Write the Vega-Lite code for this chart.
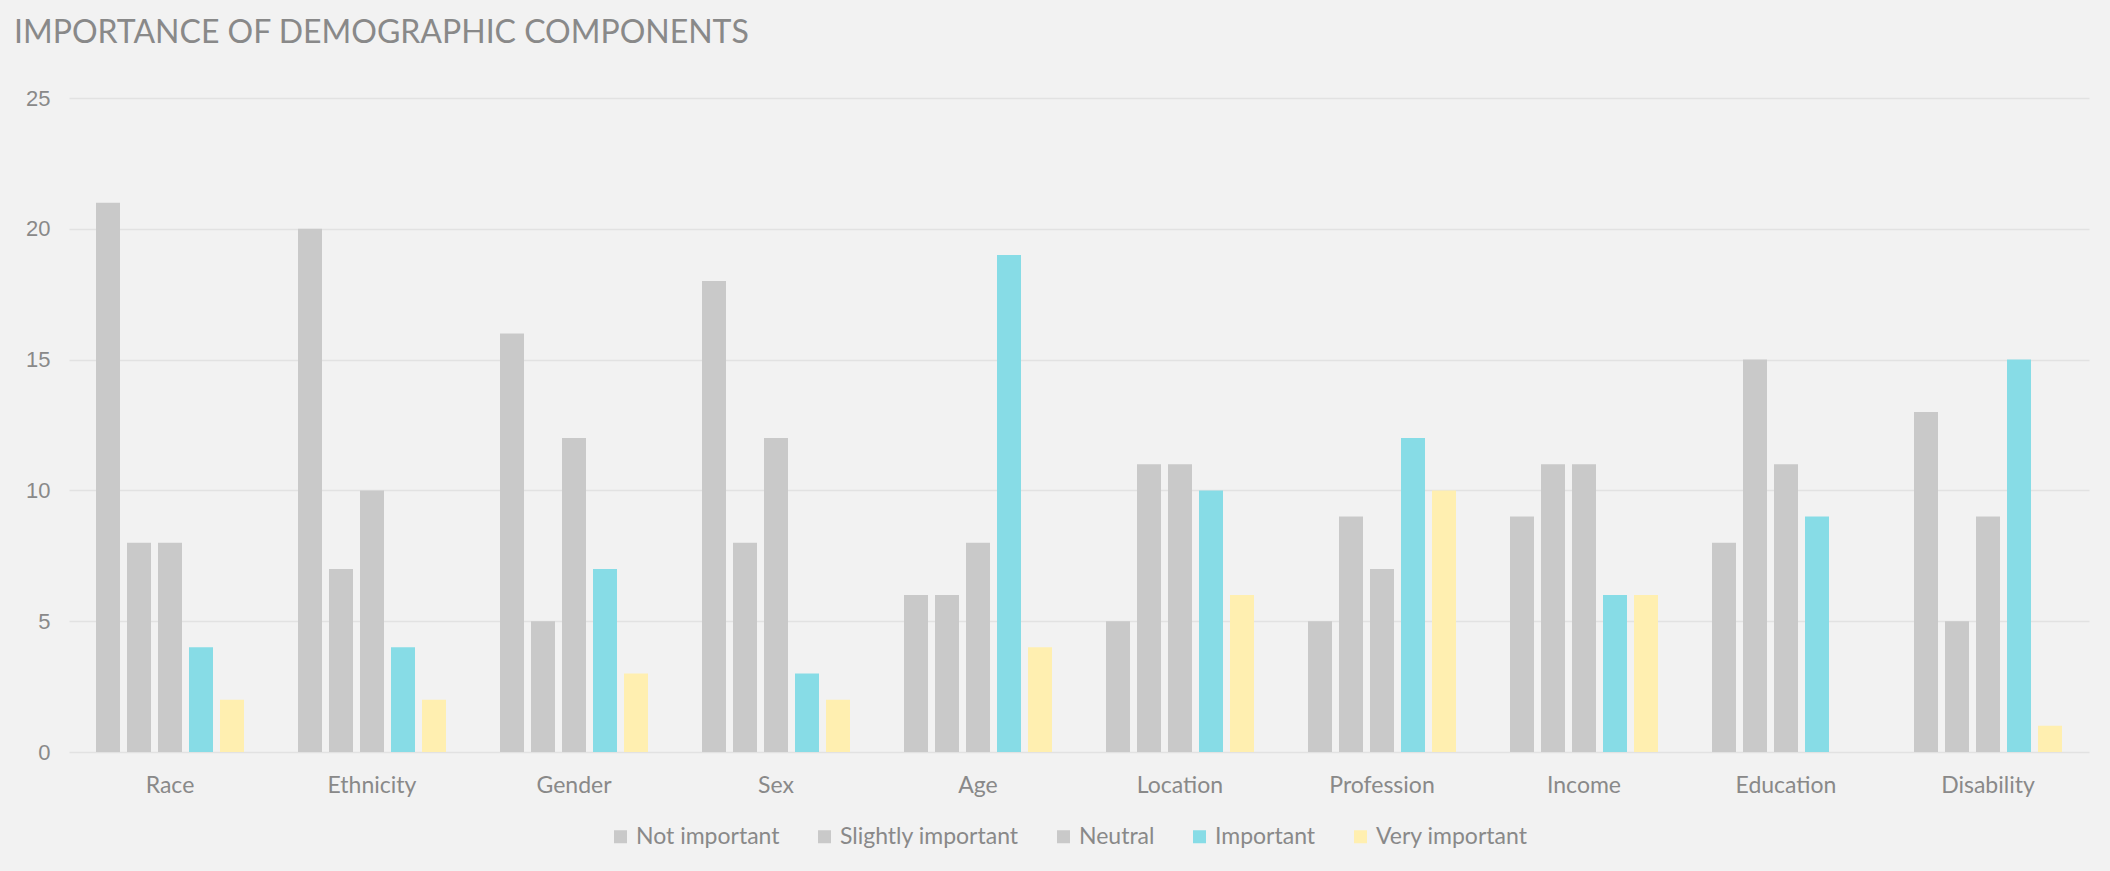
{
  "$schema": "https://vega.github.io/schema/vega-lite/v6.json",
  "autosize": {"type": "none"},
  "width": 2020,
  "height": 654,
  "padding": {"left": 69, "top": 98, "right": 21, "bottom": 119},
  "background": "#f2f2f2",
  "title": {
    "text": "IMPORTANCE OF DEMOGRAPHIC COMPONENTS",
    "anchor": "start",
    "frame": "group",
    "font": "Lato",
    "fontSize": 32,
    "fontWeight": "normal",
    "color": "#898989",
    "baseline": "alphabetic",
    "dx": -55,
    "offset": 12
  },
  "data": {
    "values": [
      {"component": "Race", "importance": "Not important", "count": 21},
      {"component": "Race", "importance": "Slightly important", "count": 8},
      {"component": "Race", "importance": "Neutral", "count": 8},
      {"component": "Race", "importance": "Important", "count": 4},
      {"component": "Race", "importance": "Very important", "count": 2},
      {"component": "Ethnicity", "importance": "Not important", "count": 20},
      {"component": "Ethnicity", "importance": "Slightly important", "count": 7},
      {"component": "Ethnicity", "importance": "Neutral", "count": 10},
      {"component": "Ethnicity", "importance": "Important", "count": 4},
      {"component": "Ethnicity", "importance": "Very important", "count": 2},
      {"component": "Gender", "importance": "Not important", "count": 16},
      {"component": "Gender", "importance": "Slightly important", "count": 5},
      {"component": "Gender", "importance": "Neutral", "count": 12},
      {"component": "Gender", "importance": "Important", "count": 7},
      {"component": "Gender", "importance": "Very important", "count": 3},
      {"component": "Sex", "importance": "Not important", "count": 18},
      {"component": "Sex", "importance": "Slightly important", "count": 8},
      {"component": "Sex", "importance": "Neutral", "count": 12},
      {"component": "Sex", "importance": "Important", "count": 3},
      {"component": "Sex", "importance": "Very important", "count": 2},
      {"component": "Age", "importance": "Not important", "count": 6},
      {"component": "Age", "importance": "Slightly important", "count": 6},
      {"component": "Age", "importance": "Neutral", "count": 8},
      {"component": "Age", "importance": "Important", "count": 19},
      {"component": "Age", "importance": "Very important", "count": 4},
      {"component": "Location", "importance": "Not important", "count": 5},
      {"component": "Location", "importance": "Slightly important", "count": 11},
      {"component": "Location", "importance": "Neutral", "count": 11},
      {"component": "Location", "importance": "Important", "count": 10},
      {"component": "Location", "importance": "Very important", "count": 6},
      {"component": "Profession", "importance": "Not important", "count": 5},
      {"component": "Profession", "importance": "Slightly important", "count": 9},
      {"component": "Profession", "importance": "Neutral", "count": 7},
      {"component": "Profession", "importance": "Important", "count": 12},
      {"component": "Profession", "importance": "Very important", "count": 10},
      {"component": "Income", "importance": "Not important", "count": 9},
      {"component": "Income", "importance": "Slightly important", "count": 11},
      {"component": "Income", "importance": "Neutral", "count": 11},
      {"component": "Income", "importance": "Important", "count": 6},
      {"component": "Income", "importance": "Very important", "count": 6},
      {"component": "Education", "importance": "Not important", "count": 8},
      {"component": "Education", "importance": "Slightly important", "count": 15},
      {"component": "Education", "importance": "Neutral", "count": 11},
      {"component": "Education", "importance": "Important", "count": 9},
      {"component": "Education", "importance": "Very important", "count": 0},
      {"component": "Disability", "importance": "Not important", "count": 13},
      {"component": "Disability", "importance": "Slightly important", "count": 5},
      {"component": "Disability", "importance": "Neutral", "count": 9},
      {"component": "Disability", "importance": "Important", "count": 15},
      {"component": "Disability", "importance": "Very important", "count": 1}
    ]
  },
  "mark": {"type": "bar"},
  "encoding": {
    "x": {
      "field": "component",
      "type": "nominal",
      "sort": ["Race", "Ethnicity", "Gender", "Sex", "Age", "Location", "Profession", "Income", "Education", "Disability"],
      "scale": {"paddingInner": 0, "paddingOuter": 0},
      "axis": {
        "title": null,
        "labelAngle": 0,
        "ticks": false,
        "domain": false,
        "grid": false,
        "labelFont": "Lato",
        "labelFontSize": 23,
        "labelColor": "#898989",
        "labelPadding": 22
      }
    },
    "xOffset": {
      "field": "importance",
      "type": "nominal",
      "sort": ["Not important", "Slightly important", "Neutral", "Important", "Very important"],
      "scale": {"paddingInner": 0.2258, "paddingOuter": 0.871}
    },
    "y": {
      "field": "count",
      "type": "quantitative",
      "scale": {"domain": [0, 25], "nice": false},
      "axis": {
        "title": null,
        "values": [0, 5, 10, 15, 20, 25],
        "ticks": false,
        "domain": false,
        "labelFont": "Liberation Sans",
        "labelFontSize": 22,
        "labelColor": "#898989",
        "labelPadding": 19,
        "gridColor": "#e2e2e2",
        "gridWidth": 1.5
      }
    },
    "color": {
      "field": "importance",
      "type": "nominal",
      "sort": ["Not important", "Slightly important", "Neutral", "Important", "Very important"],
      "scale": {
        "domain": ["Not important", "Slightly important", "Neutral", "Important", "Very important"],
        "range": ["#c9c9c9", "#c9c9c9", "#c9c9c9", "#87dce6", "#ffefb0"]
      },
      "legend": {
        "title": null,
        "orient": "none",
        "legendX": 540,
        "legendY": 727,
        "direction": "horizontal",
        "symbolType": "square",
        "symbolSize": 169,
        "symbolStrokeWidth": 0,
        "labelFont": "Lato",
        "labelFontSize": 23,
        "labelColor": "#898989",
        "labelOffset": 4,
        "columnPadding": 33,
        "padding": 0,
        "labelLimit": 400
      }
    }
  },
  "config": {"view": {"stroke": null}}
}
